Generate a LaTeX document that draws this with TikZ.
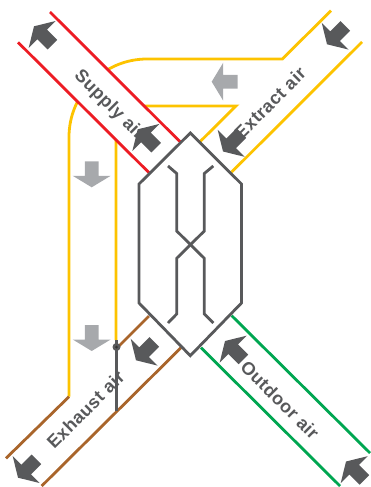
\documentclass[tikz,border=0pt]{standalone}
\usepackage{fontspec}
\setmainfont[LetterSpace=2.5]{Liberation Sans}
\definecolor{dk}{HTML}{58595B}
\definecolor{lt}{HTML}{A7A9AC}
\definecolor{yel}{HTML}{FDC300}
\definecolor{rd}{HTML}{ED1C24}
\definecolor{brn}{HTML}{A9652B}
\definecolor{grn}{HTML}{00A651}
\tikzset{
  wire/.style={line width=2.8pt},
  hexline/.style={line width=2.8pt,draw=dk,line join=miter},
  lbl/.style={text=dk,font=\fontsize{18}{20}\selectfont\bfseries,inner sep=0pt},
  blockarrow/.pic={\fill[pic actions] (0,0) -- (-19,-11.5) -- (-6.8,-11.5) -- (-6.8,-26) -- (6.8,-26) -- (6.8,-11.5) -- (19,-11.5) -- cycle;}
}
\begin{document}
\begin{tikzpicture}[x=1pt,y=-1pt]
\useasboundingbox (0,0) rectangle (371,487);
% yellow extract duct branches
\draw[wire,yel] (331,10.7) -- (282.3,59) -- (147,59) .. controls (104,59) and (69,94) .. (69,137) -- (69,396.7);
\draw[wire,yel] (116,340) -- (116,142) .. controls (116,122) and (130,106) .. (147,106) -- (236,106) -- (200,141.7);
\draw[wire,yel] (362,42) -- (231.7,172);
% supply band
\fill[white] (50,12) -- (180,141.7) -- (149,172.7) -- (18,42.3) -- cycle;
\draw[wire,rd] (50,12) -- (180,141.7);
\draw[wire,rd] (18,42.3) -- (149,172.7);
% exhaust
\draw[wire,brn] (6,458.3) -- (69,396.7);
\draw[wire,brn] (41.7,486) -- (181,347.7);
\draw[wire,brn] (116,349) -- (149,316);
% outdoor
\draw[wire,grn] (231.7,315.7) -- (370,453);
\draw[wire,grn] (201,347.7) -- (340,486);
% labels
\node[lbl,rotate=-45] (supply) at (109,105) {Supply air};
\node[lbl,rotate=45] (extract) at (270,103) {Extract air};
\node[lbl,rotate=45] (exhaust) at (85.5,409.5) {Exhaust air};
% block arrows
\foreach \x/\y/\r in {34/26.3/-135,137.7/129.3/-135,327/44.3/-45,223/151.5/-45,18/477.7/-45,136/360.3/-45,225/341/-135,346/461.5/-135}
  \pic[fill=dk,rotate=\r] at (\x,\y) {blockarrow};
\foreach \x/\y/\r in {211.7/81.7/-90,91.7/187.3/0,91.7/351/0}
  \pic[fill=lt,rotate=\r] at (\x,\y) {blockarrow};
\fill[white] (249,370) circle[radius=9];
\node[lbl,rotate=-45] (outdoor) at (280,400) {Outdoor air};
% heat exchanger
\draw[hexline,fill=white] (190.3,133) -- (241.5,184) -- (241.5,303) -- (190.3,355.7) -- (139,303) -- (139,184) -- cycle;
\draw[hexline] (168,166) -- (176.7,173.5) -- (176.7,231) -- (204.3,258.3) -- (204.3,314) -- (213.3,323);
\draw[hexline] (213.3,166) -- (204.3,173.5) -- (204.3,231) -- (176.7,258.3) -- (176.7,314) -- (168,323);
% probe
\draw[wire,dk] (116.5,340) -- (116.5,411);
\fill[dk] (116.5,347) circle[radius=4];
\fill[black!80] (116.5,347) circle[radius=1.5];
\end{tikzpicture}
\end{document}
